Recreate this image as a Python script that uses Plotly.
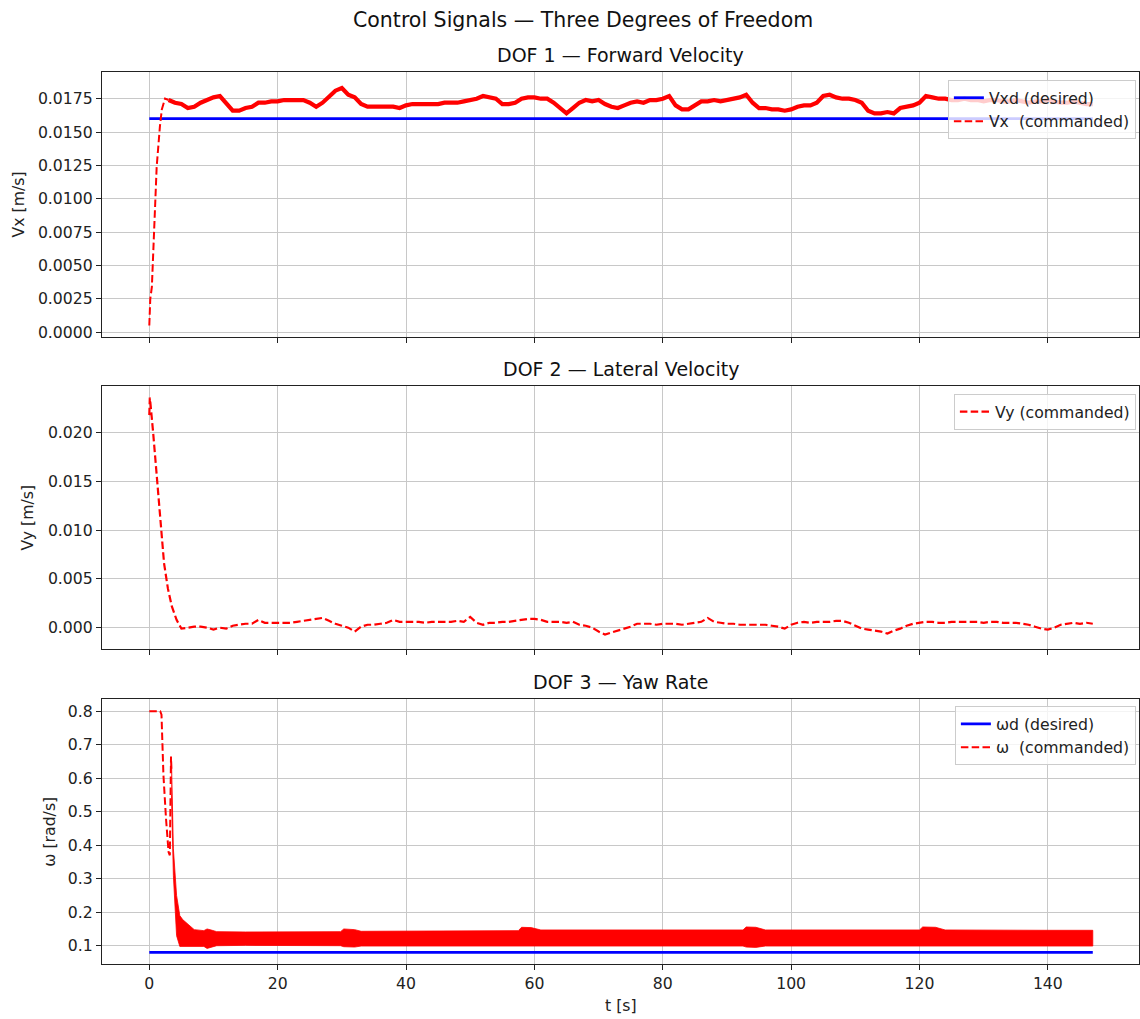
import plotly.graph_objects as go

FONT = "DejaVu Sans"

# ---------------- DOF 1: forward velocity ----------------
vxd_t = [0, 147]
vxd = [0.016, 0.016]

vx_rise_t = [0.0, 0.15, 0.4, 0.75, 1.15, 1.65, 1.95, 2.45, 3.0]
vx_rise = [0.0005, 0.0025, 0.0034, 0.0079, 0.0124, 0.0154, 0.0167, 0.0175, 0.0174]

vx_t = list(range(3, 148))
vx = [
    0.0174, 0.0172, 0.0171, 0.0168, 0.0169, 0.0172, 0.0174, 0.0176, 0.0177, 0.0172,  # 3-12
    0.0166, 0.0166, 0.0168, 0.0169, 0.0172, 0.0172, 0.0173, 0.0173, 0.0174, 0.0174,  # 13-22
    0.0174, 0.0174, 0.0172, 0.0169, 0.0172, 0.0177, 0.0181, 0.0183, 0.0178, 0.0176,  # 23-32
    0.0171, 0.0169, 0.0169, 0.0169, 0.0169, 0.0169, 0.0168, 0.0170, 0.0171, 0.0171,  # 33-42
    0.0171, 0.0171, 0.0171, 0.0172, 0.0172, 0.0172, 0.0173, 0.0174, 0.0175, 0.0177,  # 43-52
    0.0176, 0.0175, 0.0171, 0.0171, 0.0172, 0.0175, 0.0176, 0.0176, 0.0175, 0.0175,  # 53-62
    0.0172, 0.0168, 0.0164, 0.0168, 0.0172, 0.0174, 0.0173, 0.0174, 0.0171, 0.0169,  # 63-72
    0.0168, 0.0170, 0.0172, 0.0173, 0.0172, 0.0174, 0.0174, 0.0175, 0.0177, 0.0170,  # 73-82
    0.0167, 0.0167, 0.0170, 0.0173, 0.0173, 0.0174, 0.0173, 0.0174, 0.0175, 0.0176,  # 83-92
    0.0178, 0.0172, 0.0168, 0.0168, 0.0167, 0.0167, 0.0166, 0.0167, 0.0169, 0.0170,  # 93-102
    0.0170, 0.0172, 0.0177, 0.0178, 0.0176, 0.0175, 0.0175, 0.0174, 0.0172, 0.0166,  # 103-112
    0.0164, 0.0164, 0.0165, 0.0164, 0.0168, 0.0169, 0.0170, 0.0172, 0.0177, 0.0176,  # 113-122
    0.0175, 0.0175, 0.0174, 0.0174, 0.0175, 0.0174, 0.0174, 0.0173, 0.0174, 0.0174,  # 123-132
    0.0173, 0.0173, 0.0174, 0.0173, 0.0172, 0.0173, 0.0173, 0.0174, 0.0173, 0.0172,  # 133-142
    0.0172, 0.0173, 0.0172, 0.0171, 0.0171,                                          # 143-147
]

# ---------------- DOF 2: lateral velocity ----------------
vy_early_t = [0.0, 0.08, 0.15, 0.6, 1.25, 1.75, 2.3, 2.9, 3.5, 4.25, 5.0]
vy_early = [0.0218, 0.0236, 0.0232, 0.0200, 0.0151, 0.0105, 0.0066, 0.0040, 0.0022, 0.0008, -0.0001]

vy_t = list(range(6, 148))
vy = [
    0.0000, 0.0001, 0.0001, 0.0000, -0.0002, 0.0000, -0.0001, 0.0002, 0.0003, 0.0004,  # 6-15
    0.0004, 0.0008, 0.0005, 0.0005, 0.0005, 0.0005, 0.0005, 0.0006, 0.0007, 0.0008,    # 16-25
    0.0009, 0.0010, 0.0007, 0.0004, 0.0002, 0.0000, -0.0004, 0.0001, 0.0003, 0.0003,   # 26-35
    0.0004, 0.0005, 0.0008, 0.0006, 0.0006, 0.0006, 0.0006, 0.0005, 0.0006, 0.0006,    # 36-45
    0.0006, 0.0006, 0.0007, 0.0006, 0.0011, 0.0005, 0.0003, 0.0005, 0.0005, 0.0006,    # 46-55
    0.0006, 0.0007, 0.0008, 0.0009, 0.0009, 0.0008, 0.0006, 0.0006, 0.0006, 0.0005,    # 56-65
    0.0006, 0.0003, 0.0002, 0.0000, -0.0004, -0.0007, -0.0005, -0.0003, -0.0001, 0.0001,  # 66-75
    0.0004, 0.0004, 0.0004, 0.0003, 0.0004, 0.0004, 0.0004, 0.0003, 0.0004, 0.0005,    # 76-85
    0.0006, 0.0010, 0.0006, 0.0005, 0.0004, 0.0004, 0.0003, 0.0003, 0.0003, 0.0003,    # 86-95
    0.0003, 0.0002, 0.0001, -0.0001, 0.0003, 0.0005, 0.0006, 0.0005, 0.0006, 0.0006,   # 96-105
    0.0006, 0.0007, 0.0007, 0.0005, 0.0002, -0.0001, -0.0002, -0.0003, -0.0004, -0.0006,  # 106-115
    -0.0003, -0.0001, 0.0002, 0.0004, 0.0005, 0.0006, 0.0006, 0.0005, 0.0005, 0.0006,  # 116-125
    0.0006, 0.0006, 0.0006, 0.0006, 0.0005, 0.0006, 0.0006, 0.0005, 0.0005, 0.0005,    # 126-135
    0.0004, 0.0003, 0.0001, -0.0001, -0.0002, 0.0000, 0.0003, 0.0004, 0.0005, 0.0004,  # 136-145
    0.0005, 0.0004,                                                                   # 146-147
]

# ---------------- DOF 3: yaw rate ----------------
wd_t = [0, 147]
wd = [0.08, 0.08]

w_t = [0.0, 1.0, 1.7, 1.9, 2.2, 2.6, 3.0, 3.2, 3.38, 3.45]
w = [0.8, 0.8, 0.8, 0.79, 0.61, 0.48, 0.38, 0.37, 0.665, 0.62]

# envelope of the fast-oscillating commanded yaw rate
w_band_t = [3.45, 3.75, 4.25, 4.75, 5.2, 6.0, 7.0, 8.5, 9.0, 9.8,
            10.5, 15, 20, 25, 29.8, 30.3, 32.0, 33.0, 40, 50,
            57.5, 58.0, 59.5, 61.0, 70, 80, 90, 92.5, 93.0, 94.5,
            96.0, 100, 110, 120.0, 120.5, 122.5, 124.0, 130, 140, 147]
w_band_hi = [0.66, 0.39, 0.25, 0.19, 0.178, 0.165, 0.148, 0.145, 0.150, 0.146,
             0.142, 0.141, 0.142, 0.142, 0.142, 0.150, 0.148, 0.143, 0.144, 0.145,
             0.145, 0.155, 0.154, 0.147, 0.147, 0.147, 0.147, 0.147, 0.156, 0.155,
             0.147, 0.147, 0.147, 0.147, 0.156, 0.155, 0.147, 0.146, 0.146, 0.146]
w_band_lo = [0.55, 0.31, 0.13, 0.098, 0.096, 0.097, 0.098, 0.098, 0.092, 0.097,
             0.100, 0.101, 0.101, 0.101, 0.100, 0.097, 0.096, 0.099, 0.099, 0.099,
             0.099, 0.097, 0.097, 0.099, 0.099, 0.099, 0.099, 0.099, 0.096, 0.095,
             0.099, 0.099, 0.099, 0.099, 0.097, 0.097, 0.099, 0.099, 0.099, 0.099]

x_ticks = [0, 20, 40, 60, 80, 100, 120, 140]
y1_ticks = [0.0, 0.0025, 0.005, 0.0075, 0.01, 0.0125, 0.015, 0.0175]
y2_ticks = [0.0, 0.005, 0.01, 0.015, 0.02]
y3_ticks = [0.1, 0.2, 0.3, 0.4, 0.5, 0.6, 0.7, 0.8]

BLUE = "#0000ff"
RED = "#ff0000"
DASH = "7.5px,3.3px"

fig = go.Figure()

# DOF 1
fig.add_trace(go.Scatter(x=vxd_t, y=vxd, mode="lines", name="Vxd (desired)",
                         line=dict(color=BLUE, width=2.8), xaxis="x", yaxis="y", legend="legend"))
fig.add_trace(go.Scatter(x=vx_t, y=vx, mode="lines", showlegend=False,
                         line=dict(color=RED, width=4.2), xaxis="x", yaxis="y"))
fig.add_trace(go.Scatter(x=vx_rise_t, y=vx_rise, mode="lines", name="Vx\u00a0 (commanded)",
                         line=dict(color=RED, width=2, dash=DASH), xaxis="x", yaxis="y", legend="legend"))

# DOF 2
fig.add_trace(go.Scatter(x=vy_early_t + vy_t, y=vy_early + vy, mode="lines", name="Vy (commanded)",
                         line=dict(color=RED, width=2.2, dash=DASH), xaxis="x2", yaxis="y2", legend="legend2"))

# DOF 3
fig.add_trace(go.Scatter(x=wd_t, y=wd, mode="lines", name="\u03c9d (desired)",
                         line=dict(color=BLUE, width=2.8), xaxis="x3", yaxis="y3", legend="legend3"))
fig.add_trace(go.Scatter(x=w_band_t + w_band_t[::-1], y=w_band_hi + w_band_lo[::-1],
                         mode="lines", fill="toself", fillcolor=RED, showlegend=False,
                         line=dict(color=RED, width=0.8), xaxis="x3", yaxis="y3"))
fig.add_trace(go.Scatter(x=w_t, y=w, mode="lines", name="\u03c9\u00a0 (commanded)",
                         line=dict(color=RED, width=2, dash=DASH), xaxis="x3", yaxis="y3", legend="legend3"))

FS = 15.7
tick_font = dict(family=FONT, size=FS, color="#222222")
common_x = dict(range=[-7.37, 154.2], tickvals=x_ticks, ticks="outside", ticklen=5, tickwidth=1,
                tickcolor="#222", showline=True, mirror=True, linecolor="#222", linewidth=1.1,
                showgrid=True, gridcolor="#c8c8c8", gridwidth=1.1, zeroline=False, tickfont=tick_font)
common_y = dict(ticks="outside", ticklen=5, tickwidth=1, tickcolor="#222", showline=True, mirror=True,
                linecolor="#222", linewidth=1.1, showgrid=True, gridcolor="#c8c8c8", gridwidth=1.1,
                zeroline=False, tickfont=tick_font)

leg_common = dict(xanchor="right", yanchor="top", bgcolor="rgba(255,255,255,0.8)",
                  bordercolor="#cccccc", borderwidth=1, font=dict(family=FONT, size=FS, color="#222"),
                  tracegroupgap=0, itemwidth=30)

fig.update_layout(
    width=1140, height=1019,
    margin=dict(l=102, r=1, t=72, b=55),
    plot_bgcolor="white", paper_bgcolor="white",
    font=dict(family=FONT, size=FS, color="#222"),
    xaxis=dict(domain=[0, 1], anchor="y", showticklabels=False, **common_x),
    xaxis2=dict(domain=[0, 1], anchor="y2", matches="x", showticklabels=False, **common_x),
    xaxis3=dict(domain=[0, 1], anchor="y3", matches="x", showticklabels=True, **common_x),
    yaxis=dict(domain=[0.7033, 1.0], anchor="x", range=[-0.00033, 0.0195], tickvals=y1_ticks,
               tickformat=".4f", **common_y),
    yaxis2=dict(domain=[0.3528, 0.6483], anchor="x2", range=[-0.00222, 0.02482], tickvals=y2_ticks,
                tickformat=".3f", **common_y),
    yaxis3=dict(domain=[0.0, 0.2968], anchor="x3", range=[0.0454, 0.8358], tickvals=y3_ticks,
                tickformat=".1f", **common_y),
    legend=dict(x=0.997, y=0.991, **leg_common),
    legend2=dict(x=0.997, y=0.639, **leg_common),
    legend3=dict(x=0.997, y=0.289, **leg_common),
    showlegend=True,
)

title_font = dict(family=FONT, size=19, color="#111")
lab_font = dict(family=FONT, size=FS, color="#222")
annotations = [
    dict(text="Control Signals \u2014 Three Degrees of Freedom", x=0.4638, y=1.0583,
         font=dict(family=FONT, size=20.5, color="#111")),
    dict(text="DOF 1 \u2014 Forward Velocity", x=0.5, y=1.0191, font=title_font),
    dict(text="DOF 2 \u2014 Lateral Velocity", x=0.5, y=0.667, font=title_font),
    dict(text="DOF 3 \u2014 Yaw Rate", x=0.5, y=0.3161, font=title_font),
    dict(text="t [s]", x=0.5, y=-0.046, font=lab_font),
    dict(text="Vx [m/s]", x=-0.081, y=0.8515, textangle=-90, font=lab_font),
    dict(text="Vy [m/s]", x=-0.0714, y=0.5005, textangle=-90, font=lab_font),
    dict(text="\u03c9 [rad/s]", x=-0.0501, y=0.1484, textangle=-90, font=lab_font),
]
for a in annotations:
    fig.add_annotation(xref="paper", yref="paper", showarrow=False, xanchor="center", yanchor="middle", **a)

fig.write_html("out.html")
